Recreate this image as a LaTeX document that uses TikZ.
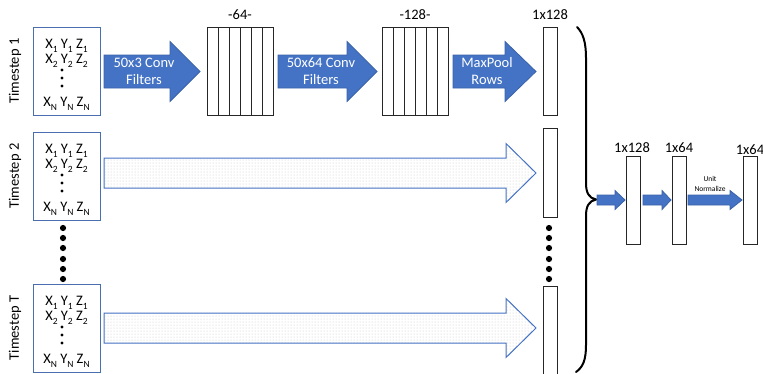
\documentclass[tikz,border=0pt]{standalone}
\usepackage{fontspec}
\setmainfont{Carlito}
\usetikzlibrary{patterns}

\definecolor{arrowblue}{HTML}{4472C4}
\definecolor{arrowedge}{HTML}{3A62A8}
\definecolor{boxblue}{HTML}{4A6EB0}

% index set slightly lowered and smaller
\newcommand\ix[1]{\raisebox{-0.3em}{\fontsize{9.5}{9.5}\selectfont #1}}

% block arrow: style, shaft start x, head start x, tip x, centre y, half shaft, half head
\newcommand\blockarrow[7]{%
  \draw[#1] (#2,#5-#6) -- (#3,#5-#6) -- (#3,#5-#7) -- (#4,#5)
    -- (#3,#5+#7) -- (#3,#5+#6) -- (#2,#5+#6) -- cycle;}

% point cloud input: name, centre y, timestep label
\newcommand\inputblock[3]{%
  \node[inbox] (#1) at (66.5,#2) {};
  \node[rotate=90, txt] at (15,#2) {#3};
  \node[txt, anchor=base] at (66.5,#2-23) {X\ix{1} Y\ix{1} Z\ix{1}};
  \node[txt, anchor=base] at (66.5,#2-8) {X\ix{2} Y\ix{2} Z\ix{2}};
  \foreach \d in {-1,7,15} \fill (62,#2+\d) circle (1.7);
  \node[txt, anchor=base] at (66.5,#2+35) {X\ix{N} Y\ix{N} Z\ix{N}};}

% stack of feature maps: name, left x, label
\newcommand\convblock[3]{%
  \node[layerbox, minimum width=66, minimum height=88, anchor=north west] (#1) at (#2,27) {};
  \foreach \k in {1,...,5} \draw[layerline] (#2+11*\k,27) -- (#2+11*\k,115);
  \node[txt] at (#2+33,15) {#3};}

\begin{document}
\begin{tikzpicture}[x=1pt, y=-1pt,
  txt/.style={inner sep=0pt, font=\fontsize{14.5}{17}\selectfont},
  wtxt/.style={txt, text=white, align=center},
  inbox/.style={draw=boxblue, line width=1pt, fill=white, minimum width=67, minimum height=88, inner sep=0pt},
  layerbox/.style={draw=black!85, line width=0.9pt, fill=white, inner sep=0pt},
  layerline/.style={draw=black!85, line width=0.9pt},
  fullarrow/.style={fill=arrowblue, draw=arrowedge, line width=0.8pt, line join=miter},
  skiparrow/.style={draw=arrowblue, line width=1pt, pattern=dots, pattern color=black!22},
  bigdot/.style={fill=black}]
\useasboundingbox (0,0) rectangle (763,373);

% inputs for three timesteps
\inputblock{in1}{71}{Timestep 1}
\inputblock{in2}{176}{Timestep 2}
\inputblock{inT}{328}{Timestep T}
\foreach \y in {228,238,248,259,269,279} \fill[bigdot] (63,\y) circle (3.1);

% convolution / pooling pipeline of timestep 1
\blockarrow{fullarrow}{104}{170}{200}{71.5}{16.5}{30}
\node[wtxt] at (144,71.5) {50x3 Conv\\Filters};
\convblock{c64}{207}{-64-}
\blockarrow{fullarrow}{278}{347}{377}{71.5}{16.5}{30}
\node[wtxt] at (321,71.5) {50x64 Conv\\Filters};
\convblock{c128}{382}{-128-}
\blockarrow{fullarrow}{453}{505}{536}{71.5}{16.5}{30}
\node[wtxt] at (487,71.5) {MaxPool\\Rows};

% pooled feature vectors
\node[layerbox, minimum width=14, minimum height=88] (f1) at (550,71) {};
\node[txt] at (550,15) {1x128};
\node[layerbox, minimum width=14, minimum height=89] (f2) at (550,173) {};
\node[layerbox, minimum width=14, minimum height=92, anchor=north] (fT) at (550,286) {};
\foreach \y in {228,238,248,259,269,279} \fill[bigdot] (549,\y) circle (3.1);

% same pipeline for the other timesteps
\blockarrow{skiparrow}{104}{506}{536}{173}{15}{29.5}
\blockarrow{skiparrow}{104}{506}{536}{328}{15}{29.5}

% brace gathering the timesteps
\draw[line width=2pt, line cap=round] (577,27) .. controls (583,33) and (586,42) .. (586,58)
  -- (586,183) .. controls (586,193) and (589,198) .. (596,199.5)
  .. controls (589,201) and (586,206) .. (586,216)
  -- (586,345) .. controls (586,360) and (583,367) .. (576,372);

% fully connected head
\node[layerbox, minimum width=14, minimum height=88] (g1) at (633,200) {};
\node[txt] at (632,148) {1x128};
\node[layerbox, minimum width=14, minimum height=88] (g2) at (679,200) {};
\node[txt] at (679,148) {1x64};
\node[layerbox, minimum width=14, minimum height=88] (g3) at (750,200) {};
\node[txt] at (750,150) {1x64};
\blockarrow{fullarrow}{597}{615}{625}{200}{5}{9.5}
\blockarrow{fullarrow}{643}{662}{671}{200}{5}{9.5}
\blockarrow{fullarrow}{688}{730}{742}{200}{5}{9.5}
\node[inner sep=0pt, font=\fontsize{7.5}{10}\selectfont, align=center] at (710,183.5) {Unit\\Normalize};
\end{tikzpicture}
\end{document}
